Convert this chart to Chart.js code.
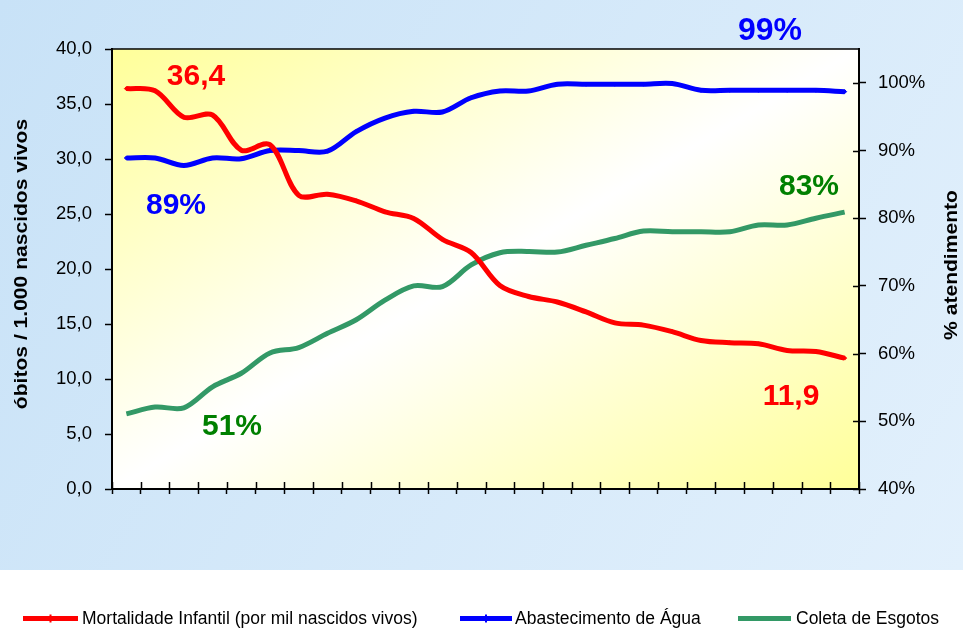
<!DOCTYPE html>
<html><head><meta charset="utf-8">
<script src="https://cdn.jsdelivr.net/npm/chart.js@4.4.1/dist/chart.umd.min.js"></script>
<style>html,body{margin:0;padding:0;background:#fff;}#wrap{width:963px;height:629px;position:relative;}</style>
</head><body><div id="wrap"><canvas id="c" width="963" height="629"></canvas></div>
<script>
// ---- data ----
const categories = [1980,1981,1982,1983,1984,1985,1986,1987,1988,1989,1990,1991,1992,1993,1994,1995,1996,1997,1998,1999,2000,2001,2002,2003,2004,2005];
const mortalidade = [36.4,36.2,33.8,34.0,30.8,31.3,26.7,26.8,26.2,25.2,24.6,22.7,21.5,18.5,17.5,17.0,16.1,15.1,14.9,14.3,13.5,13.3,13.2,12.6,12.5,11.9];
const abastecimento = [88.9,88.9,87.8,88.9,88.8,90.0,90.0,89.9,92.8,94.8,95.8,95.7,97.8,98.8,98.8,99.8,99.8,99.8,99.8,99.9,98.9,98.9,98.9,98.9,98.9,98.7];
const esgotos = [51.1,52.1,52.0,55.1,57.1,60.1,60.9,63.0,65.0,67.9,70.0,69.9,73.1,74.9,75.1,75.0,76.0,77.0,78.1,78.0,78.0,78.0,79.0,79.0,80.0,80.9];
const leftTickValues = [0,5,10,15,20,25,30,35,40];
const rightTickValues = [40,50,60,70,80,90,100];
const seriesLabels = ['Mortalidade Infantil (por mil nascidos vivos)','Abastecimento de Água','Coleta de Esgotos'];
const leftTitle = 'óbitos / 1.000 nascidos vivos';
const rightTitle = '% atendimento';
const callouts = ['36,4','89%','99%','83%','51%','11,9'];

// ---- layout / style (not data) ----
const calloutStyle = [
  {x:196,y:85,color:'#ff0000',size:30},
  {x:176,y:214,color:'#0000ff',size:30},
  {x:770,y:40,color:'#0000ff',size:32},
  {x:809,y:195,color:'#008000',size:30},
  {x:232,y:435,color:'#008000',size:30},
  {x:791,y:405,color:'#ff0000',size:30}
];
const legendPos = [{x:23,len:55,tx:82},{x:460,len:52,tx:515},{x:738,len:53,tx:796}];
const FONT = '"Liberation Sans", Arial, sans-serif';

const deco = {
  id:'deco',
  beforeDraw(chart){
    const ctx = chart.ctx, a = chart.chartArea;
    ctx.save();
    ctx.fillStyle = '#ffffff';
    ctx.fillRect(0,0,chart.width,chart.height);
    const g = ctx.createLinearGradient(0,0,chart.width,570);
    g.addColorStop(0,'#c8e2f7');
    g.addColorStop(1,'#e2f0fc');
    ctx.fillStyle = g;
    ctx.fillRect(0,0,chart.width,570);
    const w = a.right-a.left, h = a.bottom-a.top;
    const cx = (a.left+a.right)/2, cy = (a.top+a.bottom)/2;
    const len = Math.hypot(h,w);
    const ux = h/len, uy = w/len;
    const proj = Math.abs((-w/2)*ux + (-h/2)*uy);
    const pg = ctx.createLinearGradient(cx-proj*ux, cy-proj*uy, cx+proj*ux, cy+proj*uy);
    pg.addColorStop(0,'#ffff99');
    pg.addColorStop(0.5,'#ffffff');
    pg.addColorStop(1,'#ffff99');
    ctx.fillStyle = pg;
    ctx.fillRect(a.left,a.top,w,h);
    ctx.restore();
  },
  afterDraw(chart){
    const ctx = chart.ctx, a = chart.chartArea;
    const xs = chart.scales.x, yr = chart.scales.y1;
    ctx.save();
    ctx.strokeStyle = '#000';
    ctx.lineWidth = 1.5;
    ctx.beginPath(); ctx.moveTo(a.left,a.top); ctx.lineTo(a.right,a.top); ctx.stroke();
    const step = xs.getPixelForValue(1) - xs.getPixelForValue(0);
    ctx.beginPath();
    for(let i=0;i<=categories.length;i++){
      const px = Math.round(xs.getPixelForValue(i) - step/2)+0.5;
      ctx.moveTo(px,a.bottom); ctx.lineTo(px,a.bottom-7);
    }
    yr.ticks.forEach(t=>{
      const py = Math.round(yr.getPixelForValue(t.value))+0.5;
      ctx.moveTo(a.right,py); ctx.lineTo(a.right-6,py);
    });
    ctx.stroke();
    ctx.fillStyle = '#000';
    ctx.font = 'bold 18px ' + FONT;
    ctx.textAlign = 'center'; ctx.textBaseline = 'middle';
    ctx.save(); ctx.translate(22,264); ctx.rotate(-Math.PI/2); ctx.scale(1.17,1); ctx.fillText(leftTitle,0,0); ctx.restore();
    ctx.save(); ctx.translate(952,265); ctx.rotate(-Math.PI/2); ctx.scale(1.17,1); ctx.fillText(rightTitle,0,0); ctx.restore();
    ctx.textBaseline = 'alphabetic';
    callouts.forEach((t,i)=>{
      const s = calloutStyle[i];
      ctx.fillStyle = s.color;
      ctx.font = 'bold '+s.size+'px '+FONT;
      ctx.fillText(t,s.x,s.y);
    });
    chart.data.datasets.forEach((ds,i)=>{
      const p = legendPos[i], y = 618.5;
      ctx.strokeStyle = ds.borderColor; ctx.lineWidth = 5; ctx.lineCap='butt';
      ctx.beginPath(); ctx.moveTo(p.x,y); ctx.lineTo(p.x+p.len,y); ctx.stroke();
      if(ds.pointRadius>0){
        ctx.fillStyle = ds.borderColor;
        ctx.fillRect(p.x+p.len/2-1,y-4,2,8);
      }
      ctx.fillStyle = '#000';
      ctx.font = '17.5px '+FONT;
      ctx.textAlign = 'left'; ctx.textBaseline='middle';
      ctx.fillText(ds.label,p.tx,619);
    });
    ctx.restore();
  }
};

new Chart(document.getElementById('c'),{
  type:'line',
  data:{
    labels:categories,
    datasets:[
      {label:seriesLabels[0],data:mortalidade,yAxisID:'y',borderColor:'#ff0000',backgroundColor:'#ff0000',borderWidth:5,tension:0.33,pointRadius:2,pointStyle:'rectRot',pointBorderWidth:1,fill:false},
      {label:seriesLabels[1],data:abastecimento,yAxisID:'y1',borderColor:'#0000ff',backgroundColor:'#0000ff',borderWidth:5,tension:0.33,pointRadius:2,pointStyle:'rectRot',pointBorderWidth:1,fill:false},
      {label:seriesLabels[2],data:esgotos,yAxisID:'y1',borderColor:'#339966',backgroundColor:'#339966',borderWidth:5,tension:0.33,pointRadius:0,fill:false}
    ]
  },
  options:{
    responsive:false,animation:false,devicePixelRatio:1,
    layout:{padding:{top:49,left:0,right:0,bottom:0}},
    plugins:{legend:{display:false},tooltip:{enabled:false},title:{display:false}},
    scales:{
      x:{type:'category',offset:true,
        grid:{display:true,offset:true,drawOnChartArea:false,drawTicks:true,tickLength:5,tickWidth:1.5,tickColor:'#000'},
        border:{display:true,color:'#000',width:2},
        ticks:{display:false},
        afterFit(s){s.height=140;}
      },
      y:{position:'left',min:0,max:40,
        afterBuildTicks(s){s.ticks=leftTickValues.map(v=>({value:v}));},
        ticks:{callback:v=>Number(v).toFixed(1).replace('.',','),color:'#000',padding:13,font:{family:FONT,size:18.5}},
        grid:{drawOnChartArea:false,tickLength:7,tickWidth:1.5,tickColor:'#000'},
        border:{display:true,color:'#000',width:2},
        afterFit(s){s.width=112;}
      },
      y1:{position:'right',min:40,max:105,
        afterBuildTicks(s){s.ticks=rightTickValues.map(v=>({value:v}));},
        ticks:{callback:v=>v+'%',color:'#000',padding:12,font:{family:FONT,size:18.5}},
        grid:{drawOnChartArea:false,tickLength:7,tickWidth:1.5,tickColor:'#000'},
        border:{display:true,color:'#000',width:2},
        afterFit(s){s.width=104;}
      }
    }
  },
  plugins:[deco]
});
</script></body></html>
